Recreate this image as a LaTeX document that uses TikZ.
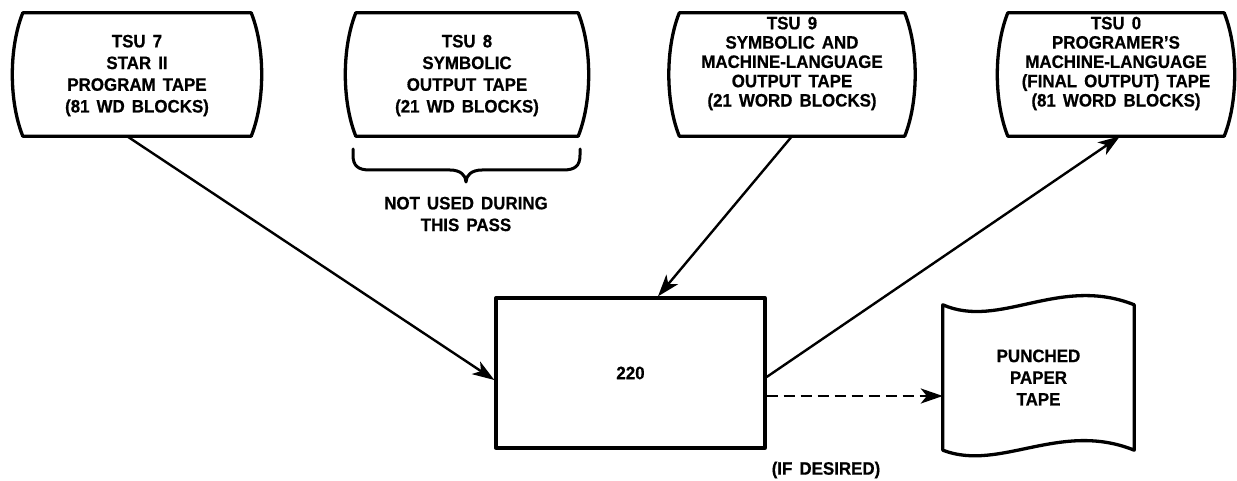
\documentclass[tikz,border=0pt]{standalone}
\usepackage{fontspec}
\setmainfont{Liberation Sans}[WordSpace=1.5, FakeStretch=0.94, BoldFeatures={FakeBold=0.6}]
\usetikzlibrary{arrows.meta}
\tikzset{
  tapebox/.style={minimum height=123pt, inner sep=0pt},
  outline/.style={line width=3.3pt, line join=round},
  txt/.style={font=\bfseries\fontsize{18}{21.7}\selectfont, align=center, inner sep=0pt},
  txtfive/.style={font=\bfseries\fontsize{18}{19.3}\selectfont, align=center, inner sep=0pt},
  conn/.style={line width=2.4pt, -{Stealth[length=22pt,width=15pt,inset=6pt]}},
  boxstyle/.style={draw, line width=3.3pt, line join=round},
}
\newcommand\tapeoutline[1]{%
  \draw[outline] (#1.north west) .. controls +(-14,35) and +(-14,-35) .. (#1.south west)
    -- (#1.south east) .. controls +(14,-35) and +(14,35) .. (#1.north east) -- cycle;}
\begin{document}
\begin{tikzpicture}[x=1pt,y=-1pt]
\useasboundingbox (0,0) rectangle (1237,481);
% tapes
\node[tapebox, minimum width=228pt] (t7) at (137,74.5) {};
\node[tapebox, minimum width=222pt] (t8) at (467,74.5) {};
\node[tapebox, minimum width=225pt] (t9) at (792,74.5) {};
\node[tapebox, minimum width=216pt] (t0) at (1116,74.5) {};
\tapeoutline{t7}
\tapeoutline{t8}
\tapeoutline{t9}
\tapeoutline{t0}
\node[txt] (t7t) at ([yshift=-1pt]t7.center) {TSU 7\\STAR II\\PROGRAM TAPE\\(81 WD BLOCKS)};
\node[txt] (t8t) at ([yshift=-1pt]t8.center) {TSU 8\\SYMBOLIC\\OUTPUT TAPE\\(21 WD BLOCKS)};
\node[txtfive] (t9t) at ([yshift=11pt]t9.center) {TSU 9\\SYMBOLIC AND\\MACHINE-LANGUAGE\\OUTPUT TAPE\\(21 WORD BLOCKS)};
\node[txtfive] (t0t) at ([yshift=11pt]t0.center) {TSU 0\\PROGRAMER'S\\MACHINE-LANGUAGE\\(FINAL OUTPUT) TAPE\\(81 WORD BLOCKS)};
% brace
\draw[line width=3pt, line cap=round, line join=round]
  (353,149) -- (353,155) .. controls (353,166) and (358,170) .. (370,170) -- (450,170)
  .. controls (460,170) and (466,175) .. (466,182)
  .. controls (466,175) and (472,170) .. (482,170) -- (563,170)
  .. controls (575,170) and (580,166) .. (580,155) -- (580,149);
\node[txt] (nu) at (466,214) {NOT USED DURING\\THIS PASS};
% processor
\node[boxstyle, txt, minimum width=269pt, minimum height=150pt] (cpu) at (630.5,373) {220};
% punched tape
\node[txt, minimum width=191pt, minimum height=145pt] (pt) at (1038.5,377.5) {PUNCHED\\PAPER\\TAPE};
\draw[outline] (pt.north west) -- (pt.south west)
  .. controls +(57,22) and +(-74,-30) .. (pt.south east)
  -- (pt.north east)
  .. controls +(-75,-30) and +(57,25) .. (pt.north west) -- cycle;
\node[txt] (ifd) at (826,470) {(IF DESIRED)};
% connectors
\draw[conn] ([xshift=-10pt]t7.south) -- ([yshift=-7pt]cpu.west);
\draw[conn] (t9.south) -- ([xshift=27.5pt]cpu.north);
\draw[conn] ([yshift=-4pt]cpu.east) -- ([xshift=4pt]t0.south);
\draw[conn, line width=2.8pt, dash pattern=on 11pt off 6pt] ([yshift=-23pt]cpu.east) -- ([yshift=-18.5pt]pt.west);
\end{tikzpicture}
\end{document}
